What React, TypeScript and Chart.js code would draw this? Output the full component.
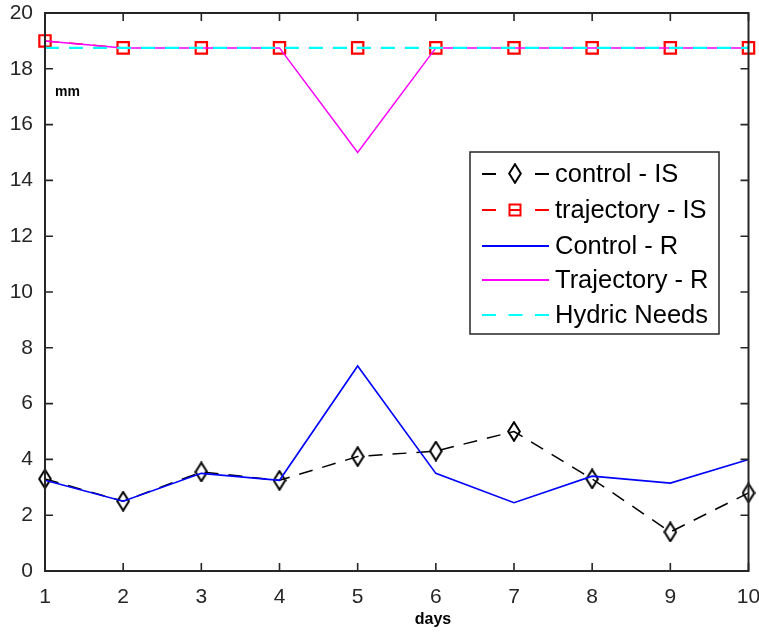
import React, { useEffect, useRef } from 'react';
import { Chart, registerables } from 'chart.js';

Chart.register(...registerables);

const days = [1, 2, 3, 4, 5, 6, 7, 8, 9, 10];
const controlIS = [3.3, 2.5, 3.55, 3.25, 4.1, 4.3, 5.0, 3.3, 1.4, 2.8];
const trajectoryIS = [19.0, 18.75, 18.75, 18.75, 18.75, 18.75, 18.75, 18.75, 18.75, 18.75];
const controlR = [3.25, 2.5, 3.5, 3.25, 7.35, 3.5, 2.45, 3.4, 3.15, 4.0];
const trajectoryR = [19.0, 18.75, 18.75, 18.75, 15.0, 18.75, 18.75, 18.75, 18.75, 18.75];
const hydricNeeds = [18.75, 18.75, 18.75, 18.75, 18.75, 18.75, 18.75, 18.75, 18.75, 18.75];
const legendLabels = ['control - IS', 'trajectory - IS', 'Control - R', 'Trajectory - R', 'Hydric Needs'];
const yAxisLabel = 'mm';
const xAxisLabel = 'days';

const FONT = "'Liberation Sans', Arial, sans-serif";
const AXIS_COLOR = '#262626';

function makeDiamond(): HTMLCanvasElement {
  const c = document.createElement('canvas');
  c.width = 14;
  c.height = 21;
  const g = c.getContext('2d')!;
  g.strokeStyle = '#000';
  g.lineWidth = 2;
  g.beginPath();
  g.moveTo(7, 1.2);
  g.lineTo(12.8, 10.5);
  g.lineTo(7, 19.8);
  g.lineTo(1.2, 10.5);
  g.closePath();
  g.stroke();
  return c;
}

const toPts = (arr: number[]) => arr.map((v, i) => ({ x: days[i], y: v }));

const framePlugin = {
  id: 'frame',
  afterDraw(chart: any) {
    const { ctx, chartArea: a, scales } = chart;
    ctx.save();
    ctx.strokeStyle = AXIS_COLOR;
    ctx.lineWidth = 2;
    ctx.strokeRect(a.left, a.top, a.right - a.left, a.bottom - a.top);
    ctx.lineWidth = 1.6;
    const tl = 8;
    ctx.beginPath();
    scales.x.ticks.forEach((t: any) => {
      const px = scales.x.getPixelForValue(t.value);
      ctx.moveTo(px, a.bottom);
      ctx.lineTo(px, a.bottom - tl);
      ctx.moveTo(px, a.top);
      ctx.lineTo(px, a.top + tl);
    });
    scales.y.ticks.forEach((t: any) => {
      const py = scales.y.getPixelForValue(t.value);
      ctx.moveTo(a.left, py);
      ctx.lineTo(a.left + tl, py);
      ctx.moveTo(a.right, py);
      ctx.lineTo(a.right - tl, py);
    });
    ctx.stroke();
    ctx.fillStyle = '#000';
    ctx.font = `bold 14px ${FONT}`;
    ctx.textBaseline = 'middle';
    ctx.textAlign = 'left';
    ctx.fillText(yAxisLabel, a.left + 10, 92);
    ctx.font = `bold 16px ${FONT}`;
    ctx.textAlign = 'center';
    ctx.fillText(xAxisLabel, 433, 620);
    ctx.restore();
  },
};

const legendPlugin = {
  id: 'customLegend',
  afterDraw(chart: any) {
    const { ctx } = chart;
    const diamond = makeDiamond();
    const bx = 470, by = 152, bw = 249, bh = 182;
    ctx.save();
    ctx.fillStyle = '#fff';
    ctx.fillRect(bx, by, bw, bh);
    ctx.strokeStyle = AXIS_COLOR;
    ctx.lineWidth = 1.5;
    ctx.strokeRect(bx, by, bw, bh);
    const rows = [174, 210, 246, 280, 315];
    const x0 = 482, x1 = 549, xm = 515;
    const colors = ['#000', '#ff0000', '#0000ff', '#ff00ff', '#00ffff'];
    rows.forEach((ry, i) => {
      ctx.strokeStyle = colors[i];
      ctx.setLineDash([]);
      ctx.lineWidth = i === 4 ? 2 : 1.8;
      ctx.beginPath();
      if (i === 0 || i === 1) {
        ctx.moveTo(x0, ry); ctx.lineTo(x0 + 14, ry);
        ctx.moveTo(x1 - 14, ry); ctx.lineTo(x1, ry);
      } else if (i === 4) {
        ctx.moveTo(x0, ry); ctx.lineTo(x0 + 14, ry);
        ctx.moveTo(x0 + 26.5, ry); ctx.lineTo(x0 + 40.5, ry);
        ctx.moveTo(x1 - 14, ry); ctx.lineTo(x1, ry);
      } else {
        ctx.moveTo(x0, ry); ctx.lineTo(x1, ry);
      }
      ctx.stroke();
      if (i === 0) {
        ctx.drawImage(diamond, xm - diamond.width / 2, ry - Math.round(diamond.height / 2));
      }
      if (i === 1) {
        ctx.lineWidth = 2;
        ctx.strokeRect(xm - 5.5, ry - 5.5, 11, 11);
        ctx.beginPath();
        ctx.moveTo(xm - 5.5, ry); ctx.lineTo(xm + 5.5, ry);
        ctx.stroke();
      }
      ctx.fillStyle = '#000';
      ctx.font = `25.5px ${FONT}`;
      ctx.textAlign = 'left';
      ctx.textBaseline = 'middle';
      ctx.fillText(legendLabels[i], 555, ry + 1);
    });
    ctx.restore();
  },
};

export default function App() {
  const ref = useRef<HTMLCanvasElement>(null);
  useEffect(() => {
    if (!ref.current) return;
    const diamond = makeDiamond();
    const chart = new Chart(ref.current, {
      type: 'line',
      data: {
        datasets: [
          {
            label: legendLabels[4],
            data: toPts(hydricNeeds),
            borderColor: '#00ffff',
            borderWidth: 2.2,
            borderDash: [14, 10],
            pointRadius: 0,
            fill: false,
            clip: false as any,
            order: 0,
          },
          {
            label: legendLabels[3],
            data: toPts(trajectoryR),
            borderColor: '#ff00ff',
            borderWidth: 1.5,
            pointRadius: 0,
            fill: false,
            clip: false as any,
            order: 1,
          },
          {
            label: legendLabels[1],
            data: toPts(trajectoryIS),
            borderColor: '#ff0000',
            borderWidth: 1.5,
            borderDash: [14, 10],
            pointStyle: 'rect',
            pointRadius: 8,
            pointBorderWidth: 2.2,
            pointBorderColor: '#ff0000',
            pointBackgroundColor: 'rgba(0,0,0,0)',
            fill: false,
            clip: false as any,
            order: 2,
          },
          {
            label: legendLabels[2],
            data: toPts(controlR),
            borderColor: '#0000ff',
            borderWidth: 1.6,
            pointRadius: 0,
            fill: false,
            clip: false as any,
            order: 3,
          },
          {
            label: legendLabels[0],
            data: toPts(controlIS),
            borderColor: '#000',
            borderWidth: 1.5,
            borderDash: [14, 10],
            pointStyle: diamond as any,
            pointRadius: 9,
            fill: false,
            clip: false as any,
            order: 4,
          },
        ],
      },
      options: {
        animation: false,
        responsive: false,
        maintainAspectRatio: false,
        layout: { padding: { top: 13, right: 9, left: 0, bottom: 0 } },
        plugins: {
          legend: { display: false },
          tooltip: { enabled: false },
          title: { display: false },
        },
        elements: { line: { tension: 0 } },
        scales: {
          x: {
            type: 'linear',
            min: 1,
            max: 10,
            grid: { display: false },
            border: { display: false },
            ticks: {
              stepSize: 1,
              color: AXIS_COLOR,
              font: { size: 21, family: FONT },
              padding: 6,
              maxRotation: 0,
            },
            afterFit: (s: any) => {
              s.height = 62;
              s.paddingLeft = 0;
              s.paddingRight = 0;
            },
          },
          y: {
            min: 0,
            max: 20,
            grid: { display: false },
            border: { display: false },
            ticks: {
              stepSize: 2,
              color: AXIS_COLOR,
              font: { size: 21, family: FONT },
              padding: 4,
            },
            afterFit: (s: any) => {
              s.width = 45;
              s.paddingTop = 0;
              s.paddingBottom = 0;
            },
          },
        },
      },
      plugins: [framePlugin, legendPlugin],
    });
    return () => chart.destroy();
  }, []);
  return (
    <div style={{ position: 'fixed', left: 0, top: 0, width: 759, height: 633, background: '#fff' }}>
      <canvas ref={ref} width={759} height={633} style={{ display: 'block' }} />
    </div>
  );
}
